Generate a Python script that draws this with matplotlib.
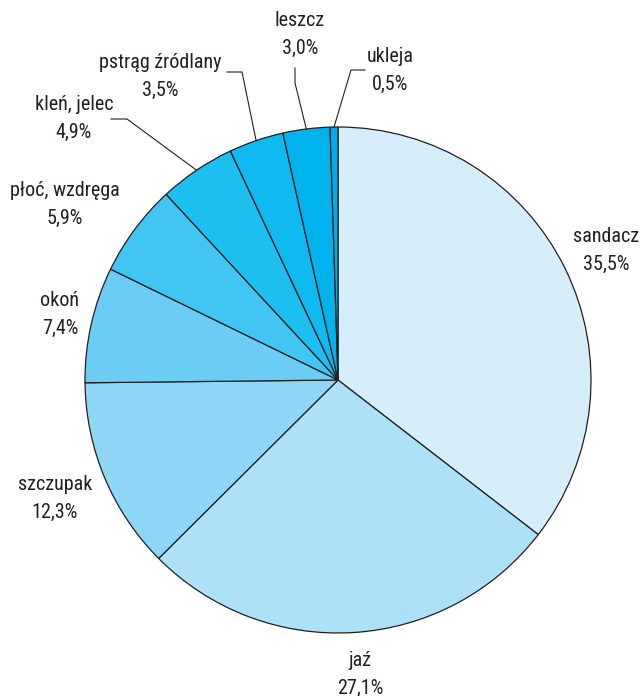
import numpy as np
import matplotlib
matplotlib.use("Agg")
import matplotlib.pyplot as plt
from matplotlib import font_manager

categories = ["sandacz", "jaź", "szczupak", "okoń", "płoć, wzdręga",
              "kleń, jelec", "pstrąg źródlany", "leszcz", "ukleja"]
values = [35.5, 27.1, 12.3, 7.4, 5.9, 4.9, 3.5, 3.0, 0.5]
value_labels = ["35,5%", "27,1%", "12,3%", "7,4%", "5,9%", "4,9%", "3,5%", "3,0%", "0,5%"]
colors = ["#D5EEFA", "#ACE1F7", "#8DD6F6", "#6CCDF4", "#41C5F2",
          "#1DBEF0", "#0EBAEF", "#00B3EC", "#00ACEA"]

names = {f.name for f in font_manager.fontManager.ttflist}
fam = [f for f in ["Liberation Sans Narrow", "Roboto Condensed", "Liberation Sans"] if f in names] + ["DejaVu Sans"]
plt.rcParams['font.family'] = fam

W, H = 644, 696
fig = plt.figure(figsize=(W / 100, H / 100), dpi=100)
ax = fig.add_axes([0, 0, 1, 1])
ax.set_xlim(0, W)
ax.set_ylim(0, H)
ax.set_aspect('equal')
ax.axis('off')

cx, cy, R = 338, H - 380, 253
wedges, _ = ax.pie(values, colors=colors, startangle=90, counterclock=False,
                   center=(cx, cy), radius=R, normalize=True,
                   wedgeprops=dict(edgecolor="#231F20", linewidth=0.9))
ax.set_xlim(0, W)
ax.set_ylim(0, H)

# label layout (pixel positions from top-left): text centre x, first line y
label_pos = [(606, 236), (360, 660), (55, 484), (60, 300), (65, 190),
             (74, 104), (160, 62), (300, 20), (390, 56)]
# leader lines: elbow point and end point (pixel coords), None = no leader
leaders = [None, None, None, None, None,
           ((127, 119), (111, 119)),
           ((242, 72), (227, 72)),
           ((295, 83), (295, 68)),
           ((351, 70), (365, 70))]

txtc = "#231F20"
fs = 14.5
for i, w in enumerate(wedges):
    x, y = label_pos[i]
    ax.text(x, H - y, categories[i], ha='center', va='center', fontsize=fs, color=txtc)
    ax.text(x, H - y - 28, value_labels[i], ha='center', va='center', fontsize=fs, color=txtc)
    if leaders[i] is not None:
        ang = np.deg2rad((w.theta1 + w.theta2) / 2)
        sx, sy = cx + R * np.cos(ang), cy + R * np.sin(ang)
        (ex, ey), (fx, fy) = leaders[i]
        ax.plot([sx, ex, fx], [sy, H - ey, H - fy], color=txtc, lw=0.8)

fig.savefig("out.png", dpi=100)
